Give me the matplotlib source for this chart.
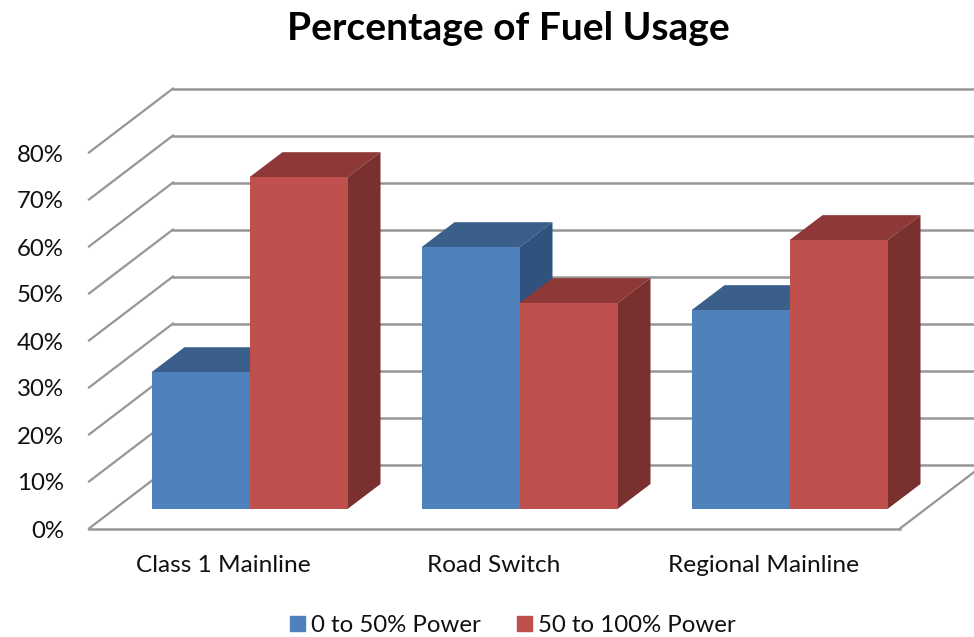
#! /usr/bin/env python3

import matplotlib
matplotlib.use('Agg')
import matplotlib.pyplot as plt
from matplotlib.patches import Patch, Polygon

title = 'Percentage of Fuel Usage'
categories = ['Class 1 Mainline', 'Road Switch', 'Regional Mainline']
series_names = ['0 to 50% Power', '50 to 100% Power']
low_power = [29.1, 55.7, 42.3]
high_power = [70.6, 43.8, 57.2]
ticks = [0, 10, 20, 30, 40, 50, 60, 70, 80]

plt.rcParams['font.family'] = ['Lato', 'DejaVu Sans']

# The 3D look is a simple oblique projection, worked out in image pixels.
W, H = 974, 637
px_per_pct = 4.7
floor_y = 528.5
wall_left, wall_right = 89, 900
wall_dx, wall_dy = 84, 64
bar_base = 509
bar_left = 151.5
group_step = 270
bar_w = 98
depth_dx, depth_dy = 33, 25

fig = plt.figure(figsize=(W / 100, H / 100), dpi=100)
ax = fig.add_axes([0, 0, 1, 1])
ax.set_xlim(0, W)
ax.set_ylim(H, 0)
ax.axis('off')

grid = '#969696'


def y_of(pct):
    return floor_y - pct * px_per_pct


# Grid: the diagonal on the side wall, then the line along the back wall.
for t in ticks:
    y = y_of(t)
    ax.plot([wall_left, wall_left + wall_dx], [y, y - wall_dy], color=grid, lw=1.6, zorder=1)
    ax.plot([wall_left + wall_dx, W], [y - wall_dy, y - wall_dy], color=grid, lw=1.8, zorder=1)
    ax.text(64, y + 2.5, f'{t}%', ha='right', va='center', fontsize=17.3, color='#111111')

# Floor front edge and its right hand diagonal.
ax.plot([wall_left, wall_right], [floor_y, floor_y], color=grid, lw=1.8, zorder=1)
ax.plot([wall_right, wall_right + wall_dx], [floor_y, floor_y - wall_dy], color=grid, lw=1.6, zorder=1)


def draw_bar(x, pct, front, top, side, z):
    y = bar_base - pct * px_per_pct
    r = x + bar_w
    ax.add_patch(Polygon([(x, y), (x + depth_dx, y - depth_dy),
                          (r + depth_dx, y - depth_dy), (r, y)],
                         closed=True, fc=top, ec='none', zorder=z))
    ax.add_patch(Polygon([(r, y), (r + depth_dx, y - depth_dy),
                          (r + depth_dx, bar_base - depth_dy), (r, bar_base)],
                         closed=True, fc=side, ec='none', zorder=z))
    ax.add_patch(Polygon([(x, y), (r, y), (r, bar_base), (x, bar_base)],
                         closed=True, fc=front, ec='none', zorder=z))


for i, name in enumerate(categories):
    x = bar_left + i * group_step
    draw_bar(x, low_power[i], '#4F81BD', '#3A5F8B', '#2F527F', 3 + i * 2)
    draw_bar(x + bar_w, high_power[i], '#C0504D', '#8E3937', '#7A302E', 4 + i * 2)
    ax.text(x + bar_w - 26, 565, name, ha='center', va='center', fontsize=17.6, color='#111111')

ax.text(508, 28, title, ha='center', va='center', fontsize=28, fontweight='bold', color='black')

handles = [Patch(color='#4F81BD', label=series_names[0]),
           Patch(color='#C0504D', label=series_names[1])]
ax.legend(handles=handles, loc='center', bbox_to_anchor=(513 / W, 1 - 625.5 / H), ncol=2,
          frameon=False, fontsize=17.3, handlelength=0.62, handleheight=0.62,
          handletextpad=0.25, columnspacing=1.5, labelcolor='#111111')

fig.savefig('out.png', dpi=100)
